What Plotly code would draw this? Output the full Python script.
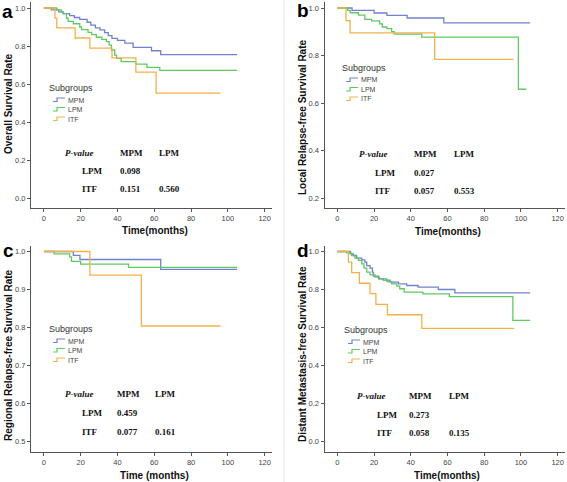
import plotly.graph_objects as go

W, H = 567, 482

# ---------------- data ----------------
groups = ["MPM", "LPM", "ITF"]
colors = {"MPM": "#7281c9", "LPM": "#62c862", "ITF": "#f5b04c"}

# Panel a: Overall survival
a_MPM_t = [0, 4, 8, 10.5, 14, 16.5, 19.5, 23.5, 25.5, 28, 30.5, 33, 35, 37, 40, 44, 48.5, 58.5, 63.5, 105]
a_MPM_s = [1, 0.99, 0.98, 0.97, 0.96, 0.95, 0.94, 0.925, 0.91, 0.895, 0.885, 0.87, 0.855, 0.84, 0.83, 0.815, 0.793, 0.775, 0.755, 0.755]
a_LPM_t = [0, 7, 9.5, 10.5, 12.3, 13.2, 16, 19.5, 20.5, 24, 26, 28.5, 31.5, 34, 35.5, 36.7, 38.5, 39.5, 42, 50, 56, 63, 105]
a_LPM_s = [1, 0.99, 0.98, 0.97, 0.946, 0.93, 0.917, 0.9, 0.886, 0.872, 0.86, 0.846, 0.835, 0.823, 0.805, 0.779, 0.752, 0.735, 0.718, 0.705, 0.688, 0.672, 0.672]
a_ITF_t = [0, 6, 7, 17, 25, 37, 50, 61, 96]
a_ITF_s = [1, 0.947, 0.895, 0.842, 0.789, 0.737, 0.663, 0.552, 0.552]

# Panel b: Local relapse-free survival
b_MPM_t = [0, 8, 20, 27, 38, 58, 105]
b_MPM_s = [1, 0.99, 0.979, 0.969, 0.958, 0.937, 0.937]
b_LPM_t = [0, 5.6, 7, 11.5, 15, 18.7, 23, 24.5, 27, 29.6, 31, 46, 98.6, 103]
b_LPM_s = [1, 0.99, 0.98, 0.97, 0.952, 0.946, 0.933, 0.92, 0.913, 0.9, 0.89, 0.877, 0.658, 0.658]
b_ITF_t = [0, 4.7, 6.9, 53, 96]
b_ITF_s = [1, 0.947, 0.895, 0.784, 0.784]

# Panel c: Regional relapse-free survival
c_MPM_t = [0, 16, 19.6, 63.5, 105]
c_MPM_s = [1, 0.99, 0.979, 0.953, 0.953]
c_LPM_t = [0, 5.5, 14, 15, 20, 46, 105]
c_LPM_s = [1, 0.994, 0.986, 0.974, 0.967, 0.958, 0.958]
c_ITF_t = [0, 25, 53, 96]
c_ITF_s = [1, 0.938, 0.804, 0.804]

# Panel d: Distant metastasis-free survival
d_MPM_t = [0, 7, 8.7, 10.5, 13.3, 15, 16, 17.8, 19.1, 19.6, 22.4, 25, 28.7, 33.3, 37.8, 44, 55, 64, 105]
d_MPM_s = [1, 0.988, 0.979, 0.965, 0.956, 0.944, 0.926, 0.912, 0.891, 0.87, 0.856, 0.849, 0.839, 0.83, 0.821, 0.812, 0.8, 0.782, 0.782]
d_LPM_t = [0, 5, 7.8, 9.6, 11.5, 13.3, 14.5, 16, 17.8, 20.5, 23, 27, 29.6, 32.4, 34, 36.4, 46.6, 61, 95.6, 105]
d_LPM_s = [1, 0.993, 0.979, 0.965, 0.953, 0.935, 0.912, 0.891, 0.877, 0.865, 0.856, 0.842, 0.83, 0.818, 0.804, 0.786, 0.777, 0.763, 0.637, 0.637]
d_ITF_t = [0, 6, 7.8, 12, 17.8, 21, 27.3, 46, 96.4]
d_ITF_s = [1, 0.944, 0.889, 0.833, 0.778, 0.722, 0.667, 0.595, 0.595]

panel_letters = ["a", "b", "c", "d"]
y_titles = ["Overall Survival Rate", "Local Relapse-free Survival Rate",
            "Regional Relapse-free Survival Rate", "Distant Metastasis-free Survival Rate"]
x_titles = ["Time(months)", "Time(months)", "Time (months)", "Time(months)"]
x_ticks = [0, 20, 40, 60, 80, 100, 120]
y_ticks = [[0, 0.2, 0.4, 0.6, 0.8, 1.0], [0.2, 0.4, 0.6, 0.8, 1.0],
           [0.5, 0.6, 0.7, 0.8, 0.9, 1.0], [0, 0.2, 0.4, 0.6, 0.8, 1.0]]
y_ranges = [[-0.0526, 1.0316], [0.1579, 1.0253], [0.4737, 1.0158], [-0.0526, 1.0316]]

# P-value tables: rows LPM, ITF ; columns MPM, LPM
p_LPM_vs_MPM = ["0.098", "0.027", "0.459", "0.273"]
p_ITF_vs_MPM = ["0.151", "0.057", "0.077", "0.058"]
p_ITF_vs_LPM = ["0.560", "0.553", "0.161", "0.135"]

panel_data = [
    {"MPM": (a_MPM_t, a_MPM_s), "LPM": (a_LPM_t, a_LPM_s), "ITF": (a_ITF_t, a_ITF_s)},
    {"MPM": (b_MPM_t, b_MPM_s), "LPM": (b_LPM_t, b_LPM_s), "ITF": (b_ITF_t, b_ITF_s)},
    {"MPM": (c_MPM_t, c_MPM_s), "LPM": (c_LPM_t, c_LPM_s), "ITF": (c_ITF_t, c_ITF_s)},
    {"MPM": (d_MPM_t, d_MPM_s), "LPM": (d_LPM_t, d_LPM_s), "ITF": (d_ITF_t, d_ITF_s)},
]

# ---------------- layout geometry (pixels) ----------------
def px(x):
    return x / W

def py(y):
    return 1 - y / H

col_x = [(31, 272), (324.5, 565)]
row_y = [(2, 208), (245.5, 451.5)]
panel_pos = [(0, 0), (1, 0), (0, 1), (1, 1)]  # (col,row)

legend_off = [(47, 88), (340, 68), (47, 329 - 240), (342, 330 - 240)]
table_left = [(63, 80, 118, 157), (357, 373, 412, 452), (63, 80, 115, 153), (355, 375, 407, 447)]
table_rows = [(153, 171, 189), (154, 172.5, 191), (154, 173, 191.5), (155.5, 175, 193)]
ytitle_pos = [(8, 104), (302, 117), (8, 355 - 240), (302, 354 - 240)]
xtitle_pos = [(155, 230), (447.5, 231), (154, 475 - 240), (447, 475.5 - 240)]
letter_pos = [(7, 11), (303, 10), (8, 250 - 240), (303, 250 - 240)]

fig = go.Figure()
annotations = []
shapes = []
axis_color = "#555555"
tick_font = dict(family="Liberation Sans, Arial", size=7.5, color="#444444")
title_font = dict(family="Liberation Sans, Arial", size=10, color="#111111")
serif = "Liberation Serif, Times New Roman"

for i in range(4):
    c, r = panel_pos[i]
    x0, x1 = col_x[c]
    y0, y1 = row_y[r]
    top = r * 240
    xa = "xaxis" if i == 0 else f"xaxis{i+1}"
    ya = "yaxis" if i == 0 else f"yaxis{i+1}"
    xr = "x" if i == 0 else f"x{i+1}"
    yr = "y" if i == 0 else f"y{i+1}"
    fig.layout[xa] = dict(domain=[px(x0), px(x1)], range=[-7, 124], anchor=yr,
                          tickvals=x_ticks, ticks="outside", ticklen=3, tickcolor=axis_color,
                          showline=True, linecolor=axis_color, linewidth=1,
                          showgrid=False, zeroline=False, tickfont=tick_font)
    fig.layout[ya] = dict(domain=[py(y1), py(y0)], range=y_ranges[i], anchor=xr,
                          tickvals=y_ticks[i], tickformat=".1f", ticks="outside", ticklen=3,
                          tickcolor=axis_color, showline=True, linecolor=axis_color, linewidth=1,
                          showgrid=False, zeroline=False, tickfont=tick_font)
    for g in groups:
        t, s = panel_data[i][g]
        fig.add_trace(go.Scatter(x=t, y=s, mode="lines", line=dict(color=colors[g], width=1.3, shape="hv"),
                                 xaxis=xr, yaxis=yr, showlegend=False, hoverinfo="skip"))

    lx, ly = letter_pos[i]
    annotations.append(dict(x=px(lx), y=py(ly + top), xref="paper", yref="paper", text=f"<b>{panel_letters[i]}</b>",
                            showarrow=False, xanchor="center", yanchor="middle",
                            font=dict(family="Liberation Sans, Arial", size=19, color="#000")))
    tx, ty = ytitle_pos[i]
    annotations.append(dict(x=px(tx), y=py(ty + top), xref="paper", yref="paper", text=f"<b>{y_titles[i]}</b>",
                            textangle=-90, showarrow=False, xanchor="center", yanchor="middle", font=title_font))
    tx, ty = xtitle_pos[i]
    annotations.append(dict(x=px(tx), y=py(ty + top), xref="paper", yref="paper", text=f"<b>{x_titles[i]}</b>",
                            showarrow=False, xanchor="center", yanchor="middle", font=title_font))
    gx, gy = legend_off[i]
    annotations.append(dict(x=px(gx), y=py(gy + top), xref="paper", yref="paper", text="Subgroups",
                            showarrow=False, xanchor="left", yanchor="middle",
                            font=dict(family="Liberation Sans, Arial", size=9, color="#333")))
    for k, g in enumerate(groups):
        iy = gy + top + 12 + k * 9.5
        ix = gx + 6
        shapes.append(dict(type="path", xref="paper", yref="paper",
                           path=f"M {px(ix)} {py(iy + 1.5)} L {px(ix + 4)} {py(iy + 1.5)} L {px(ix + 4)} {py(iy - 2)} L {px(ix + 12)} {py(iy - 2)}",
                           line=dict(color=colors[g], width=1.2)))
        annotations.append(dict(x=px(ix + 12.5), y=py(iy), xref="paper", yref="paper", text=g,
                                showarrow=False, xanchor="left", yanchor="middle",
                                font=dict(family="Liberation Sans, Arial", size=7, color="#444")))
    pxl, rlab, cm, cl = table_left[i]
    r1, r2, r3 = table_rows[i]
    cells = [
        (pxl, r1, "<b><i>P-value</i></b>"), (cm, r1, "<b>MPM</b>"), (cl, r1, "<b>LPM</b>"),
        (rlab, r2, "<b>LPM</b>"), (cm, r2, f"<b>{p_LPM_vs_MPM[i]}</b>"),
        (rlab, r3, "<b>ITF</b>"), (cm, r3, f"<b>{p_ITF_vs_MPM[i]}</b>"), (cl, r3, f"<b>{p_ITF_vs_LPM[i]}</b>"),
    ]
    for (cx, cy, txt) in cells:
        annotations.append(dict(x=px(cx), y=py(cy + top), xref="paper", yref="paper", text=txt,
                                showarrow=False, xanchor="left", yanchor="middle",
                                font=dict(family=serif, size=9, color="#111")))

shapes.append(dict(type="line", xref="paper", yref="paper", x0=px(284), x1=px(284), y0=0, y1=1,
                   line=dict(color="#e4e4e4", width=1)))

fig.update_layout(width=W, height=H, margin=dict(l=0, r=0, t=0, b=0),
                  paper_bgcolor="white", plot_bgcolor="white",
                  annotations=annotations, shapes=shapes, showlegend=False)

fig.write_html("out.html", config={"displayModeBar": False},
               post_script="document.body.style.margin='0';document.body.style.padding='0';")
